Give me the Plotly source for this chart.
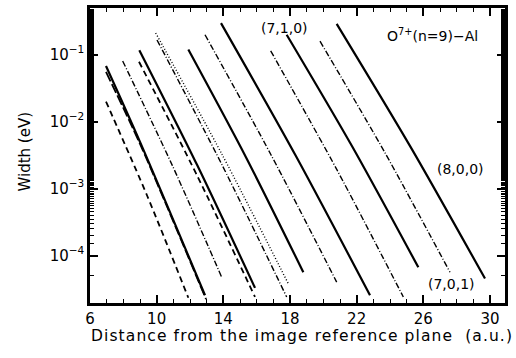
import plotly.graph_objects as go

# Curves: x (a.u.) and width (eV) (3 points each)
curve_names = ["A", "B", "C", "D", "E", "F", "G", "H", "I", "J", "K", "L", "M", "N", "O"]
curve_x = {
    "A": [6.96, 9.43, 11.90],
    "B": [6.96, 9.00, 12.90],
    "C": [6.96, 9.00, 12.96],
    "D": [7.96, 10.93, 13.90],
    "E": [8.94, 12.42, 15.90],
    "F": [8.96, 12.43, 15.90],
    "G": [9.94, 13.92, 17.90],
    "H": [10.02, 13.91, 17.80],
    "I": [11.90, 15.35, 18.80],
    "J": [12.90, 16.85, 20.80],
    "K": [13.86, 18.33, 22.80],
    "L": [16.84, 20.82, 24.80],
    "M": [17.80, 21.75, 25.70],
    "N": [19.80, 23.70, 27.60],
    "O": [20.80, 25.25, 29.70],
}
curve_logw = {
    "A": [-1.703, -3.108, -4.631],
    "B": [-1.171, -2.305, -4.594],
    "C": [-1.260, -2.334, -4.651],
    "D": [-1.097, -2.651, -4.323],
    "E": [-1.108, -2.804, -4.619],
    "F": [-0.935, -2.650, -4.483],
    "G": [-0.679, -2.491, -4.421],
    "H": [-0.783, -2.642, -4.619],
    "I": [-0.926, -2.529, -4.250],
    "J": [-0.705, -2.492, -4.397],
    "K": [-0.532, -2.504, -4.594],
    "L": [-0.945, -2.723, -4.619],
    "M": [-0.705, -2.381, -4.176],
    "N": [-0.802, -2.467, -4.250],
    "O": [-0.542, -2.386, -4.344],
}
curve_style = {
    "A": ("6px,4px", 1.8),
    "B": ("solid", 2.2),
    "C": ("10px,3px", 1.8),
    "D": ("6px,2px,1px,2px", 1.4),
    "E": ("6px,4px", 1.8),
    "F": ("solid", 2.2),
    "G": ("1px,2px", 1.4),
    "H": ("6px,2px,1px,2px", 1.4),
    "I": ("solid", 2.2),
    "J": ("6px,2px,1px,2px", 1.4),
    "K": ("solid", 2.2),
    "L": ("6px,2px,1px,2px", 1.4),
    "M": ("solid", 2.2),
    "N": ("6px,2px,1px,2px", 1.4),
    "O": ("solid", 2.2),
}

x_ticks = [6, 10, 14, 18, 22, 26, 30]
y_tickvals = [1e-4, 1e-3, 1e-2, 1e-1]
y_ticktext = ["10<sup>−4</sup>", "10<sup>−3</sup>", "10<sup>−2</sup>", "10<sup>−1</sup>"]

x_title = "Distance from the image reference plane  (a.u.)"
y_title = "Width (eV)"

FONT = "DejaVu Sans"

fig = go.Figure()
for n in curve_names:
    dash, w = curve_style[n]
    fig.add_trace(go.Scatter(
        x=curve_x[n], y=[10 ** v for v in curve_logw[n]],
        mode="lines", line=dict(color="black", width=w, dash=dash, shape="spline", smoothing=0.8),
        showlegend=False, hoverinfo="skip"))

ann = [
    ("(7,1,0)", 17.64, -0.606),
    ("O<sup>7+</sup>(n=9)−Al", 26.52, -0.709),
    ("(8,0,0)", 28.2, -2.703),
    ("(7,0,1)", 27.66, -4.43),
]
for t, ax_, ay_ in ann:
    fig.add_annotation(text=t, x=ax_, y=ay_, xref="x", yref="y", showarrow=False,
                       font=dict(family=FONT, size=14, color="black"))

# axis titles as annotations for precise placement
fig.add_annotation(text='<span style="letter-spacing:1.1px">' + x_title + '</span>',
                   x=0.51, y=-0.112, xref="paper", yref="paper",
                   showarrow=False, xanchor="center", yanchor="middle",
                   font=dict(family=FONT, size=15.5, color="black"))
fig.add_annotation(text=y_title, x=-0.157, y=0.513, xref="paper", yref="paper",
                   showarrow=False, xanchor="center", yanchor="middle", textangle=-90,
                   font=dict(family=FONT, size=15, color="black"))

fig.update_layout(
    width=516, height=358,
    margin=dict(l=90, r=11, t=5, b=55),
    paper_bgcolor="white", plot_bgcolor="white",
    font=dict(family=FONT, size=15, color="black"),
)
fig.update_xaxes(
    range=[6, 30.9], tickmode="array", tickvals=x_ticks, ticktext=[str(v) for v in x_ticks],
    ticks="inside", ticklen=8, tickwidth=1.5, tickcolor="black",
    minor=dict(dtick=1, tick0=6, ticks="inside", ticklen=4, tickcolor="black", tickwidth=1.2),
    showline=True, linewidth=2.5, linecolor="black", mirror="allticks",
    showgrid=False, zeroline=False,
    tickfont=dict(family=FONT, size=15),
)
fig.update_yaxes(
    type="log", range=[-4.709, -0.306], tickmode="array", tickvals=y_tickvals, ticktext=y_ticktext,
    ticks="inside", ticklen=8, tickwidth=1.5, tickcolor="black",
    minor=dict(ticks="inside", ticklen=4, tickcolor="black", tickwidth=1.2),
    showline=True, linewidth=2.5, linecolor="black", mirror="allticks",
    showgrid=False, zeroline=False,
    tickfont=dict(family=FONT, size=15),
)

fig.write_html("out.html")
